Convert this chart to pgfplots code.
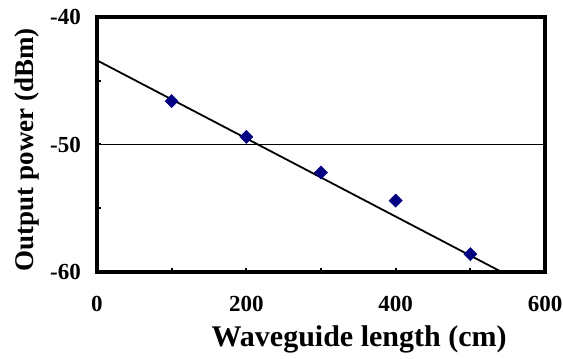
\documentclass[border=0pt]{standalone}
\usepackage{fontspec}
\setmainfont{Liberation Serif}
\usepackage{pgfplots}
\pgfplotsset{compat=1.18}
\definecolor{mk}{RGB}{0,0,128}
\begin{document}
\begin{tikzpicture}
\begin{axis}[
  name=ax,
  scale only axis,
  width=448pt, height=255pt,
  xmin=0, xmax=600, ymin=-60, ymax=-40,
  axis line style={line width=3.5pt},
  xtick={0,100,...,600},
  xticklabels={0,,200,,400,,600},
  ytick={-60,-55,-50,-45,-40},
  yticklabels={-60,,-50,,-40},
  tick align=inside,
  major tick length=4pt,
  tick style={line width=2pt, black},
  xtick pos=bottom, ytick pos=left,
  /pgf/number format/assume math mode=true,
  xticklabel style={font=\fontsize{23}{23}\selectfont\bfseries, inner sep=0pt, anchor=north, yshift=-24pt},
  yticklabel style={font=\fontsize{23}{23}\selectfont\bfseries, inner sep=0pt, anchor=east, xshift=-16pt},
  xlabel={Waveguide length (cm)},
  ylabel={Output power (dBm)},
  xlabel style={font=\fontsize{30}{30}\selectfont\bfseries, inner sep=0pt, at={(axis description cs:0.585,0)}, anchor=north, yshift=-53pt},
  ylabel style={font=\fontsize{27}{27}\selectfont\bfseries, inner sep=0pt, at={(axis description cs:-0.156,0.48)}, anchor=center, rotate=0},
  clip=true,
]
\addplot[line width=0.9pt, black] coordinates {(0,-50) (600,-50)};
\addplot[line width=1.8pt, black] coordinates {(0,-43.4) (542,-60)};
\addplot[only marks, mark=square*, mark size=4.7pt, mark options={rotate=45, fill=mk, draw=mk, line width=0.4pt}] coordinates {
(100,-46.6) (200,-49.4) (300,-52.2) (400,-54.4) (500,-58.6)};
\end{axis}
\pgfresetboundingbox
\path ([shift={(-97pt,-86pt)}]ax.south west) rectangle ([shift={(18pt,17pt)}]ax.north east);
\end{tikzpicture}
\end{document}
